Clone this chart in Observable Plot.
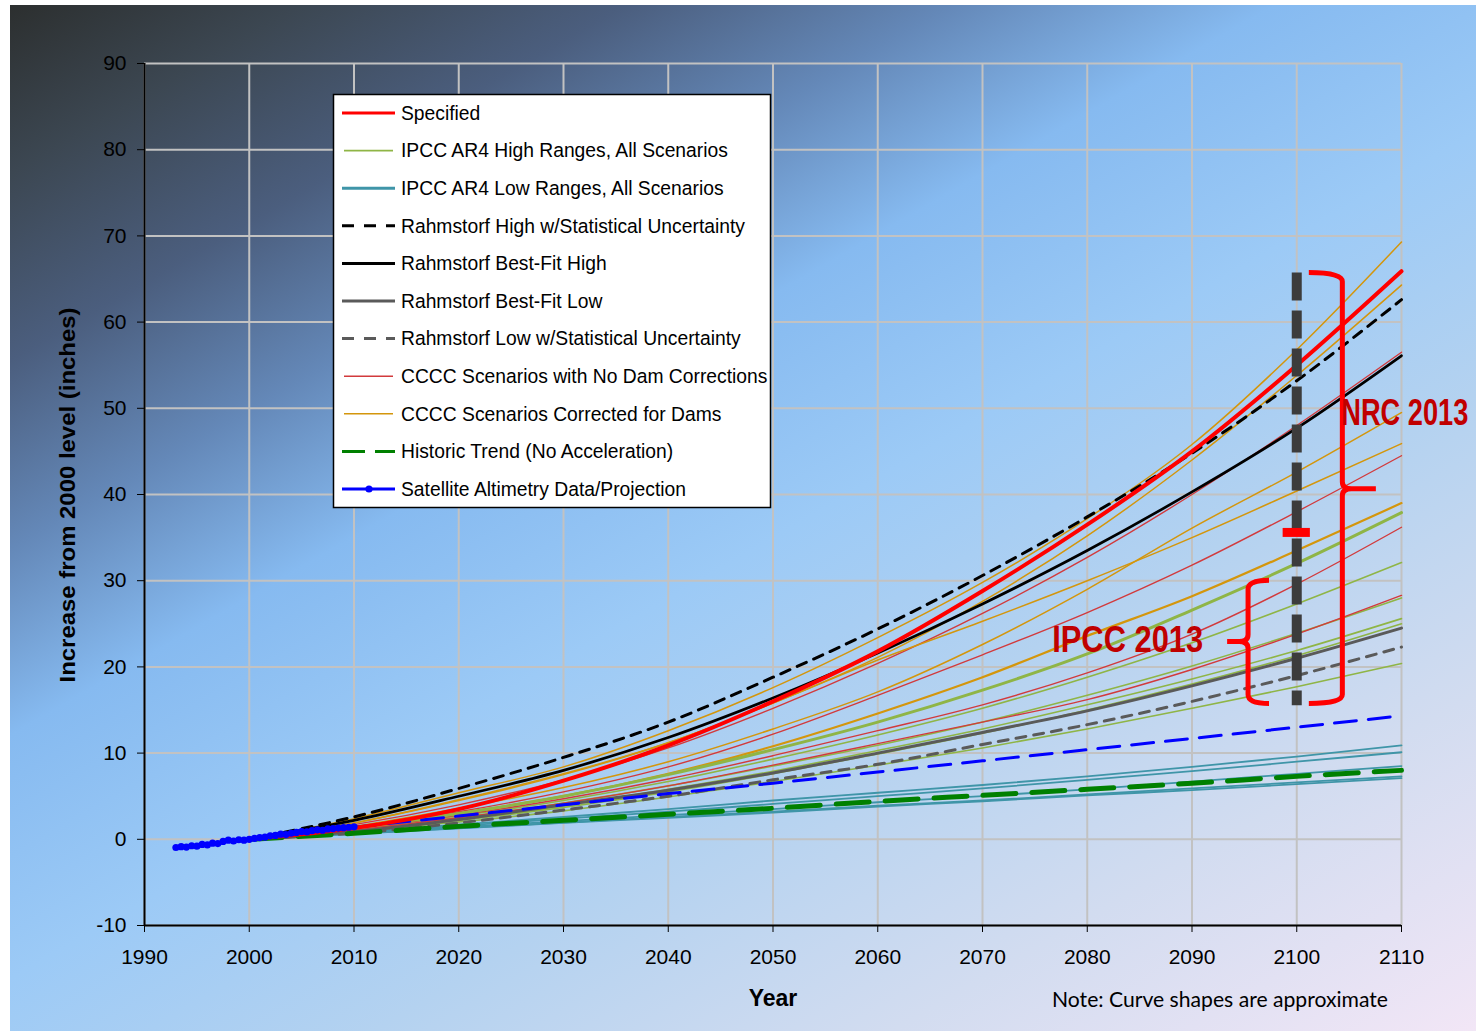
<!DOCTYPE html>
<html><head><meta charset="utf-8">
<script src="https://cdn.jsdelivr.net/npm/d3@7"></script>
<script src="https://cdn.jsdelivr.net/npm/@observablehq/plot@0.6"></script>
<style>
html,body{margin:0;padding:0;background:#fff;overflow:hidden;width:1476px;height:1031px;}
#bg{position:absolute;left:10px;top:5px;width:1466px;height:1026px;
 background: linear-gradient(150deg, #2c2f2f 0%, #3c4752 9%, #4b5e7e 19%, #6488b8 29%, #86baf0 39%, #9ccaf6 52%, #b4d2f0 66%, #d2dcf0 82%, #f2e6f6 100%);}
#chart{position:absolute;left:0;top:0;}
</style></head><body><div id="bg"></div><div id="chart"></div>
<script>
// ---------- data (inches above 2000 level) ----------
const years = [2000,2010,2020,2030,2040,2050,2060,2070,2080,2090,2100,2110];
const specified     = [0,1.3,3.5,6.8,10.9,16.0,21.8,28.8,36.5,45.0,55.0,65.9];
const rahmHighUnc   = [0,2.6,5.9,9.5,13.6,18.8,24.4,30.6,37.4,44.8,53.2,62.6];
const rahmBestHigh  = [0,2.2,5.0,8.0,11.8,16.4,21.6,27.3,33.5,40.3,47.7,56.1];
const rahmBestLow   = [0,0.9,2.3,4.0,5.7,7.7,10.0,12.4,14.9,17.8,21.0,24.5];
const rahmLowUnc    = [0,0.7,1.9,3.4,5.0,6.9,8.7,11.0,13.3,16.0,19.0,22.3];
const historicTrend = [0,0.7,1.5,2.2,2.9,3.6,4.4,5.1,5.8,6.5,7.3,8.0];
const ipccHigh = [
  [0,1.3,3.0,5.0,7.5,10.4,13.6,17.3,21.5,26.6,32.0,37.9],
  [0,1.2,2.7,4.5,6.7,9.3,12.1,15.2,18.8,22.8,27.3,32.1],
  [0,1.1,2.5,4.2,6.2,8.5,10.9,13.6,16.7,20.1,23.9,28.0],
  [0,1.0,2.3,3.9,5.8,7.9,10.3,12.8,15.6,18.6,21.9,25.6],
  [0,1.0,2.2,3.7,5.5,7.6,9.9,12.3,15.0,18.0,21.3,25.0],
  [0,0.9,2.0,3.3,4.9,6.7,8.6,10.6,12.8,15.2,17.7,20.4]
];
const ipccLow = [
  [0,0.8,1.7,2.6,3.5,4.5,5.4,6.3,7.3,8.4,9.6,10.9],
  [0,0.75,1.55,2.4,3.2,4.1,5.0,5.9,6.9,7.9,9.0,10.1],
  [0,0.7,1.4,2.1,2.8,3.5,4.3,5.0,5.8,6.7,7.6,8.5],
  [0,0.65,1.3,1.95,2.6,3.2,3.9,4.5,5.2,5.9,6.6,7.3],
  [0,0.63,1.26,1.9,2.5,3.1,3.8,4.4,5.1,5.7,6.4,7.1]
];
const ccccNoDam = [
  [0,1.7,4.0,6.9,10.6,15.2,20.4,26.2,32.7,40.0,48.0,56.5],
  [0,1.4,3.2,5.5,8.4,12.2,16.7,21.4,26.3,31.8,38.0,44.5],
  [0,1.2,2.8,4.7,7.0,9.7,12.6,15.6,19.3,23.8,29.6,36.2],
  [0,1.1,2.5,4.2,6.2,8.6,11.1,13.6,16.2,19.7,23.8,28.3]
];
const ccccDams = [
  [0,2.4,5.4,8.4,12.6,17.6,23.4,29.8,37.2,45.8,56.8,69.3],
  [0,1.9,4.5,7.5,11.2,15.8,21.1,27.6,35.2,44.0,53.8,64.3],
  [0,1.5,3.6,6.0,9.0,12.8,17.1,22.6,29.0,36.1,42.6,49.5],
  [0,1.9,4.6,7.6,11.2,15.8,20.8,25.3,30.0,35.0,40.4,45.9],
  [0,1.3,3.0,5.0,7.6,10.8,14.6,18.8,23.6,28.2,33.5,39.0]
];
const projYears  = [2010,2020,2030,2040,2050,2060,2070,2080,2090,2100,2109];
const projValues = [1.4,2.7,4.0,5.3,6.5,7.8,9.1,10.4,11.7,13.0,14.2];
const satYears  = [1993,1993.5,1994,1994.5,1995,1995.5,1996,1996.5,1997,1997.5,1998,1998.5,1999,1999.5,2000,2000.5,2001,2001.5,2002,2002.5,2003,2003.5,2004,2004.5,2005,2005.5,2006,2006.5,2007,2007.5,2008,2008.5,2009,2009.5,2010];
const satValues = [-0.95,-0.85,-0.9,-0.75,-0.8,-0.6,-0.65,-0.45,-0.5,-0.25,-0.1,-0.2,-0.05,-0.1,0.0,0.1,0.2,0.25,0.4,0.45,0.6,0.55,0.7,0.8,0.9,0.85,1.0,1.1,1.05,1.2,1.25,1.3,1.35,1.4,1.45];
const xTicks = [1990,2000,2010,2020,2030,2040,2050,2060,2070,2080,2090,2100,2110];
const yTicks = [-10,0,10,20,30,40,50,60,70,80,90];

// annotations (in data units)
const nrcBar   = [{year:2100, top:65.7, bottom:15.5}];
const midMark  = [{value:35.6, from:2098.7, to:2101.3}];
const braces = [
  {spine:2104.4, arm:2101.2, tip:2107.6, top:65.7, mid:40.6, bottom:15.7},
  {spine:2095.4, arm:2097.4, tip:2093.4, top:30.0, mid:22.9, bottom:15.7}
];
const labels = [
  {text:"NRC 2013", year:2104.3, value:49.6, width:127},
  {text:"IPCC 2013", year:2076.7, value:23.2, width:151}
];

// ---------- helpers ----------
const rows = (name, ys, xs = years) => ys.map((v,i)=>({year:xs[i], value:v, series:name}));
const multi = (prefix, arr) => arr.flatMap((a,k)=>rows(prefix+k, a));

const C = {
  red:"#ff0000", green:"#8fb546", teal:"#3f95a8", cred:"#d23a3c", orange:"#d4960c",
  gray:"#5a5a5a", dgreen:"#008000", blue:"#0000ff"
};
const line = (data, o) => Plot.line(data, {x:"year", y:"value", z:"series", curve:"monotone-x", ...o});

const plot = Plot.plot({
  width:1476, height:1031,
  marginLeft:144, marginRight:75, marginTop:63, marginBottom:106,
  style:{background:"transparent", fontFamily:"'Liberation Sans', Arial, sans-serif", fontSize:"21px", color:"#000"},
  x:{domain:[1990,2110]},
  y:{domain:[-10,90]},
  marks:[
    Plot.gridX(xTicks, {stroke:"#c2c2c2", strokeOpacity:1, strokeWidth:2}),
    Plot.gridY(yTicks, {stroke:"#c2c2c2", strokeOpacity:1, strokeWidth:2}),
    line(multi("low", ipccLow), {stroke:C.teal, strokeWidth:1.8}),
    line(multi("high", ipccHigh.slice(1)), {stroke:C.green, strokeWidth:1.6}),
    line(multi("nodam", ccccNoDam), {stroke:C.cred, strokeWidth:1.4}),
    line(multi("dams", ccccDams.slice(0,4)), {stroke:C.orange, strokeWidth:1.5}),
    line(rows("dams4", ccccDams[4]), {stroke:C.orange, strokeWidth:2.2}),
    line(rows("high0", ipccHigh[0]), {stroke:C.green, strokeWidth:3}),
    line(rows("bfl", rahmBestLow), {stroke:C.gray, strokeWidth:3}),
    line(rows("lu", rahmLowUnc), {stroke:C.gray, strokeWidth:3, strokeDasharray:"10,8"}),
    line(rows("bfh", rahmBestHigh), {stroke:"#000", strokeWidth:2.7}),
    line(rows("hu", rahmHighUnc), {stroke:"#000", strokeWidth:3, strokeDasharray:"10,8"}),
    line(rows("hist", historicTrend), {stroke:C.dgreen, strokeWidth:5, strokeDasharray:"33,16"}),
    line(rows("proj", projValues, projYears), {stroke:C.blue, strokeWidth:3, strokeDasharray:"22,12", curve:"linear"}),
    line(rows("spec", specified), {stroke:C.red, strokeWidth:4}),
    Plot.line(rows("sat", satValues, satYears), {x:"year", y:"value", stroke:C.blue, strokeWidth:3}),
    Plot.dot(rows("sat", satValues, satYears), {x:"year", y:"value", fill:C.blue, r:3.6}),
    Plot.ruleX(nrcBar, {x:"year", y1:"top", y2:"bottom", stroke:"#3c3c3c", strokeWidth:10, strokeDasharray:"28,10"}),
    Plot.ruleY(midMark, {y:"value", x1:"from", x2:"to", stroke:C.red, strokeWidth:9}),
    Plot.axisX(xTicks, {tickSize:7, tickPadding:17, tickFormat:d=>String(d), label:null, fontSize:21}),
    Plot.axisY(yTicks, {tickSize:7, tickPadding:11, tickFormat:d=>String(d), label:null, fontSize:21}),
    Plot.ruleX([1990], {stroke:"#000", strokeWidth:2}),
    Plot.ruleY([-10], {stroke:"#000", strokeWidth:2})
  ]
});
document.getElementById("chart").appendChild(plot);

const sx = v => plot.scale("x").apply(v);
const sy = v => plot.scale("y").apply(v);
const svg = d3.select(plot);

// braces
for (const b of braces) {
  const vx = sx(b.spine), ax = sx(b.arm), tx = sx(b.tip);
  const t = sy(b.top), m = sy(b.mid), bt = sy(b.bottom);
  const dir = Math.sign(tx - vx);
  const d = `M${ax},${t} Q${vx},${t} ${vx},${t+9} L${vx},${m-7} Q${vx},${m} ${vx+dir*9},${m} L${tx},${m}`
          + ` M${vx+dir*9},${m} Q${vx},${m} ${vx},${m+7} L${vx},${bt-9} Q${vx},${bt} ${ax},${bt}`;
  svg.append("path").attr("d", d).attr("fill","none").attr("stroke", C.red).attr("stroke-width",5);
}
// brace labels
for (const l of labels) {
  svg.append("text").attr("x", sx(l.year)).attr("y", sy(l.value)).attr("dy","0.36em")
    .attr("text-anchor","start")
    .attr("font-family","'Liberation Sans Narrow','Liberation Sans',Arial,sans-serif")
    .attr("font-weight","bold").attr("font-size",37).attr("fill","#c00000")
    .attr("textLength", l.width).attr("lengthAdjust","spacingAndGlyphs").text(l.text);
}

// axis titles and note
svg.append("text").attr("transform","translate(67,495) rotate(-90)").attr("text-anchor","middle").attr("dy","0.35em")
  .attr("font-family","'Liberation Sans',Arial,sans-serif").attr("font-weight","bold").attr("font-size",22.5)
  .attr("textLength",375).attr("lengthAdjust","spacingAndGlyphs").text("Increase from 2000 level (inches)");
svg.append("text").attr("x",773).attr("y",998).attr("text-anchor","middle").attr("dy","0.35em")
  .attr("font-family","'Liberation Sans',Arial,sans-serif").attr("font-weight","bold").attr("font-size",23)
  .text("Year");
svg.append("text").attr("x",1052).attr("y",1000).attr("dy","0.35em").attr("text-anchor","start")
  .attr("font-family","Lato,'Open Sans',sans-serif").attr("font-size",21)
  .attr("textLength",336).attr("lengthAdjust","spacingAndGlyphs").text("Note: Curve shapes are approximate");

// legend
const legendItems = [
  {label:"Specified", stroke:C.red, w:3},
  {label:"IPCC AR4 High Ranges, All Scenarios", stroke:C.green, w:1.6, short:true},
  {label:"IPCC AR4 Low Ranges, All Scenarios", stroke:C.teal, w:3},
  {label:"Rahmstorf High w/Statistical Uncertainty", stroke:"#000", w:3, dash:"12,10"},
  {label:"Rahmstorf Best-Fit High", stroke:"#000", w:3},
  {label:"Rahmstorf Best-Fit Low", stroke:C.gray, w:3},
  {label:"Rahmstorf Low w/Statistical Uncertainty", stroke:C.gray, w:3, dash:"12,10"},
  {label:"CCCC Scenarios with No Dam Corrections", stroke:C.cred, w:1.4, short:true},
  {label:"CCCC Scenarios Corrected for Dams", stroke:C.orange, w:1.4, short:true},
  {label:"Historic Trend (No Acceleration)", stroke:C.dgreen, w:3, dash:"23,10"},
  {label:"Satellite Altimetry Data/Projection", stroke:C.blue, w:3, dot:true}
];
const lg = svg.append("g");
lg.append("rect").attr("x",333.5).attr("y",94.5).attr("width",437).attr("height",413)
  .attr("fill","#fff").attr("stroke","#000").attr("stroke-width",1.5);
legendItems.forEach((it,i)=>{
  const cy = 113 + i*37.6;
  lg.append("line").attr("x1", it.short?344:342).attr("x2", it.short?393:395).attr("y1",cy).attr("y2",cy)
    .attr("stroke",it.stroke).attr("stroke-width",it.w).attr("stroke-dasharray",it.dash||null);
  if (it.dot) lg.append("circle").attr("cx",369).attr("cy",cy).attr("r",3.6).attr("fill",it.stroke);
  lg.append("text").attr("x",401).attr("y",cy).attr("dy","0.35em").attr("text-anchor","start")
    .attr("font-family","'Liberation Sans',Arial,sans-serif").attr("font-size",19.3).attr("fill","#000").text(it.label);
});
</script></body></html>
